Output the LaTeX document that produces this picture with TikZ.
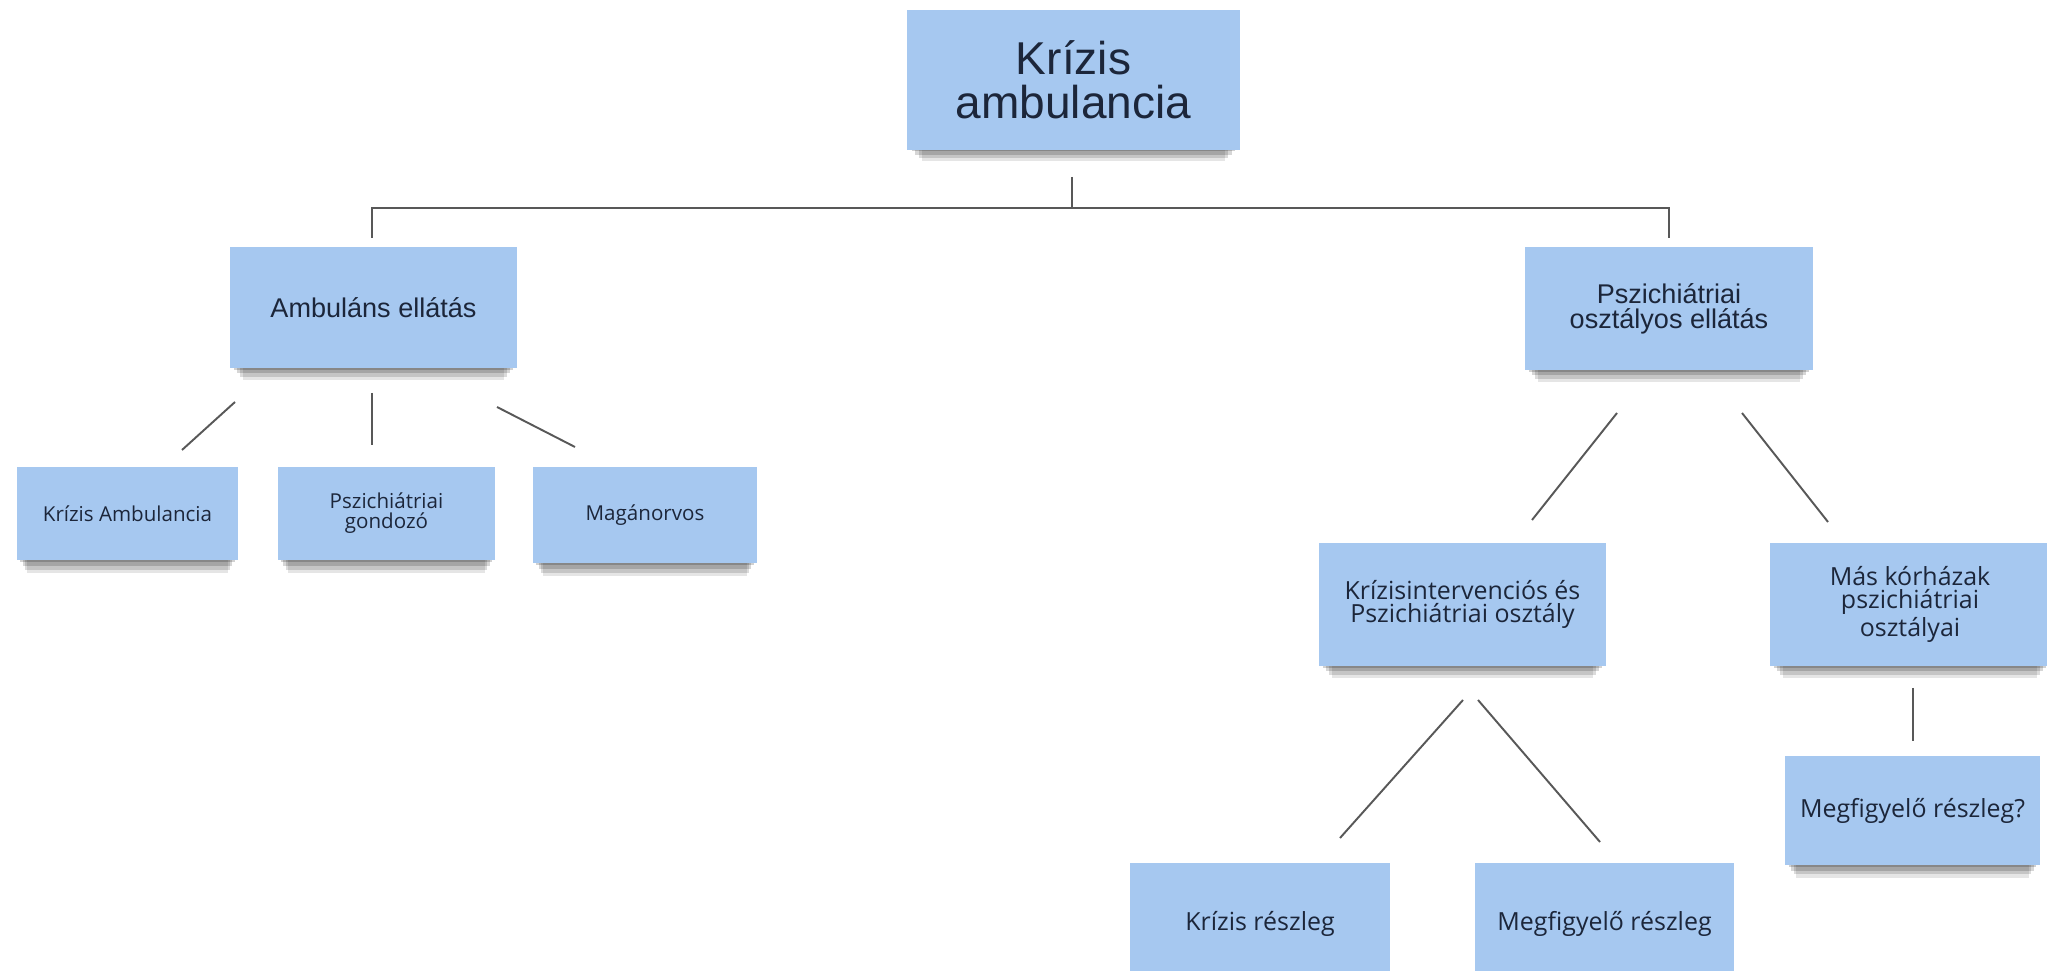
\documentclass[tikz,border=0pt]{standalone}
\usepackage{fontspec}
\newfontfamily\arialfont{Liberation Sans}
\newfontfamily\opensansfont{Open Sans}
\usepackage{xcolor}
\definecolor{noteblue}{RGB}{166,200,240}
\definecolor{notetext}{RGB}{28,38,58}
\definecolor{linkgray}{RGB}{88,88,88}
\usetikzlibrary{shadows}

\tikzset{
  note/.style={fill=noteblue, text=notetext, align=center, inner sep=0pt,
    drop shadow={shadow xshift=0pt, shadow yshift=-1pt, shadow scale=0.97, opacity=0.18, fill=black},
    drop shadow={shadow xshift=0pt, shadow yshift=-2.5pt, shadow scale=0.95, opacity=0.16, fill=black},
    drop shadow={shadow xshift=0pt, shadow yshift=-4pt, shadow scale=0.93, opacity=0.14, fill=black},
    drop shadow={shadow xshift=0pt, shadow yshift=-5.5pt, shadow scale=0.91, opacity=0.1, fill=black}},
  topnote/.style={note, font=\arialfont\fontsize{13.1}{12.6}\selectfont},
  groupnote/.style={note, font=\arialfont\fontsize{7.7}{7.1}\selectfont},
  leafnote/.style={note, font=\opensansfont\fontsize{5.85}{5.7}\selectfont},
  unitnote/.style={note, font=\opensansfont\fontsize{7.1}{6.55}\selectfont},
  link/.style={linkgray, line width=0.55pt}
}

\begin{document}
\begin{tikzpicture}
  \useasboundingbox (0,0) rectangle (20.47,-9.71);

  % Root
  \node[topnote, minimum width=3.33cm, minimum height=1.40cm] (top) at (10.735,-0.80) {Krízis\\ambulancia};

  % Second level
  \node[groupnote, minimum width=2.87cm, minimum height=1.21cm] (amb) at (3.735,-3.075) {Ambuláns ellátás};
  \node[groupnote, minimum width=2.88cm, minimum height=1.23cm] (psz) at (16.69,-3.085) {Pszichiátriai\\osztályos ellátás};

  % Ambulant branch
  \node[leafnote, minimum width=2.21cm, minimum height=0.93cm] (kamb) at (1.275,-5.135) {Krízis Ambulancia};
  \node[leafnote, minimum width=2.17cm, minimum height=0.93cm] (gond) at (3.865,-5.135) {Pszichiátriai\\gondozó};
  \node[leafnote, minimum width=2.24cm, minimum height=0.96cm] (magan) at (6.45,-5.15) {Magánorvos};

  % Ward branch
  \node[unitnote, minimum width=2.87cm, minimum height=1.23cm] (krint) at (14.625,-6.045) {Krízisintervenciós és\\Pszichiátriai osztály};
  \node[unitnote, minimum width=2.80cm, minimum height=1.23cm] (maskh) at (19.10,-6.045) {Más kórházak\\pszichiátriai\\osztályai};
  \node[unitnote, minimum width=2.55cm, minimum height=1.09cm] (megfq) at (19.125,-8.105) {Megfigyelő részleg?};
  \node[unitnote, minimum width=2.60cm, minimum height=1.22cm] (krreszl) at (12.60,-9.24) {Krízis részleg};
  \node[unitnote, minimum width=2.59cm, minimum height=1.22cm] (megfr) at (16.045,-9.24) {Megfigyelő részleg};

  % Connector ends
  \coordinate (top-stem) at (10.72,-1.77);
  \coordinate (top-fork) at (10.72,-2.08);
  \coordinate (amb-drop) at (3.72,-2.38);
  \coordinate (psz-drop) at (16.69,-2.38);
  \coordinate (amb-l1) at (2.35,-4.02);  \coordinate (amb-l2) at (1.82,-4.50);
  \coordinate (amb-m1) at (3.72,-3.93);  \coordinate (amb-m2) at (3.72,-4.45);
  \coordinate (amb-r1) at (4.97,-4.07);  \coordinate (amb-r2) at (5.75,-4.47);
  \coordinate (psz-l1) at (16.17,-4.13); \coordinate (psz-l2) at (15.32,-5.20);
  \coordinate (psz-r1) at (17.42,-4.13); \coordinate (psz-r2) at (18.28,-5.22);
  \coordinate (krint-l1) at (14.63,-7.00); \coordinate (krint-l2) at (13.40,-8.38);
  \coordinate (krint-r1) at (14.78,-7.00); \coordinate (krint-r2) at (16.00,-8.42);
  \coordinate (maskh-1) at (19.13,-6.88); \coordinate (maskh-2) at (19.13,-7.41);

  % Tree lines
  \draw[link] (top-stem) -- (top-fork);
  \draw[link] (amb-drop) |- (top-fork) -| (psz-drop);
  \draw[link] (amb-l1) -- (amb-l2);
  \draw[link] (amb-m1) -- (amb-m2);
  \draw[link] (amb-r1) -- (amb-r2);
  \draw[link] (psz-l1) -- (psz-l2);
  \draw[link] (psz-r1) -- (psz-r2);
  \draw[link] (krint-l1) -- (krint-l2);
  \draw[link] (krint-r1) -- (krint-r2);
  \draw[link] (maskh-1) -- (maskh-2);
\end{tikzpicture}
\end{document}
